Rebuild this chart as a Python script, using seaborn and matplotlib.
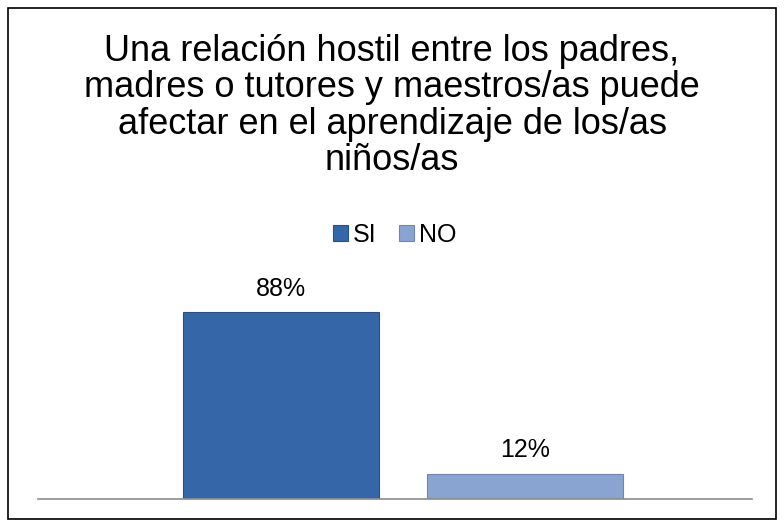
import numpy as np
import pandas as pd
import matplotlib
matplotlib.use("Agg")
import matplotlib.pyplot as plt
import seaborn as sns
from matplotlib.patches import Rectangle, Patch

# data
series = ["SI", "NO"]
values = [88, 12]
labels = ["88%", "12%"]
colors = ["#3567A8", "#8AA4D2"]
edges = ["#2a4f80", "#6f86b3"]

df = pd.DataFrame({"serie": series, "valor": values})

sns.set_style("white")
plt.rcParams['font.family'] = ['Liberation Sans', 'DejaVu Sans']
plt.rcParams['text.color'] = 'black'

fig = plt.figure(figsize=(7.84, 5.27), dpi=100)
ax = fig.add_axes([38 / 784, 28 / 527, 714 / 784, 239 / 527])

sns.barplot(data=df, x="serie", y="valor", hue="serie", palette=colors,
            saturation=1, width=0.8, dodge=False, legend=False, ax=ax,
            linewidth=0.8)
for p, e in zip(ax.patches, edges):
    p.set_edgecolor(e)

for i, (v, lab) in enumerate(zip(values, labels)):
    ax.text(i, v + 11.0, lab, ha="center", va="center", fontsize=18, color="black")

ax.set_ylim(0, 112.5)
ax.set_xlim(-0.996, 1.93)
ax.set_xticks([])
ax.set_yticks([])
ax.set_xlabel("")
ax.set_ylabel("")
for s in ["top", "left", "right"]:
    ax.spines[s].set_visible(False)
ax.spines["bottom"].set_color("#8c8c8c")
ax.spines["bottom"].set_linewidth(1.2)

# title
fig.text(0.5, 1 - 106 / 527,
         "Una relación hostil entre los padres,\nmadres o tutores y maestros/as puede\n"
         "afectar en el aprendizaje de los/as\nniños/as",
         ha="center", va="center", fontsize=26, linespacing=1.06, color="black")

# legend
handles = [Patch(facecolor=c, edgecolor=e, linewidth=0.8) for c, e in zip(colors, edges)]
fig.legend(handles, series, loc="center", bbox_to_anchor=(395 / 784, 1 - 235 / 527),
           ncol=2, frameon=False, fontsize=18, handlelength=0.6, handleheight=0.6,
           handletextpad=0.2, columnspacing=0.9, labelcolor="black")

# outer border
fig.patches.append(Rectangle((8 / 784, 8 / 527), 768 / 784, 511 / 527,
                             transform=fig.transFigure, fill=False,
                             edgecolor="black", linewidth=1.2))

fig.savefig("out.png", dpi=100)
